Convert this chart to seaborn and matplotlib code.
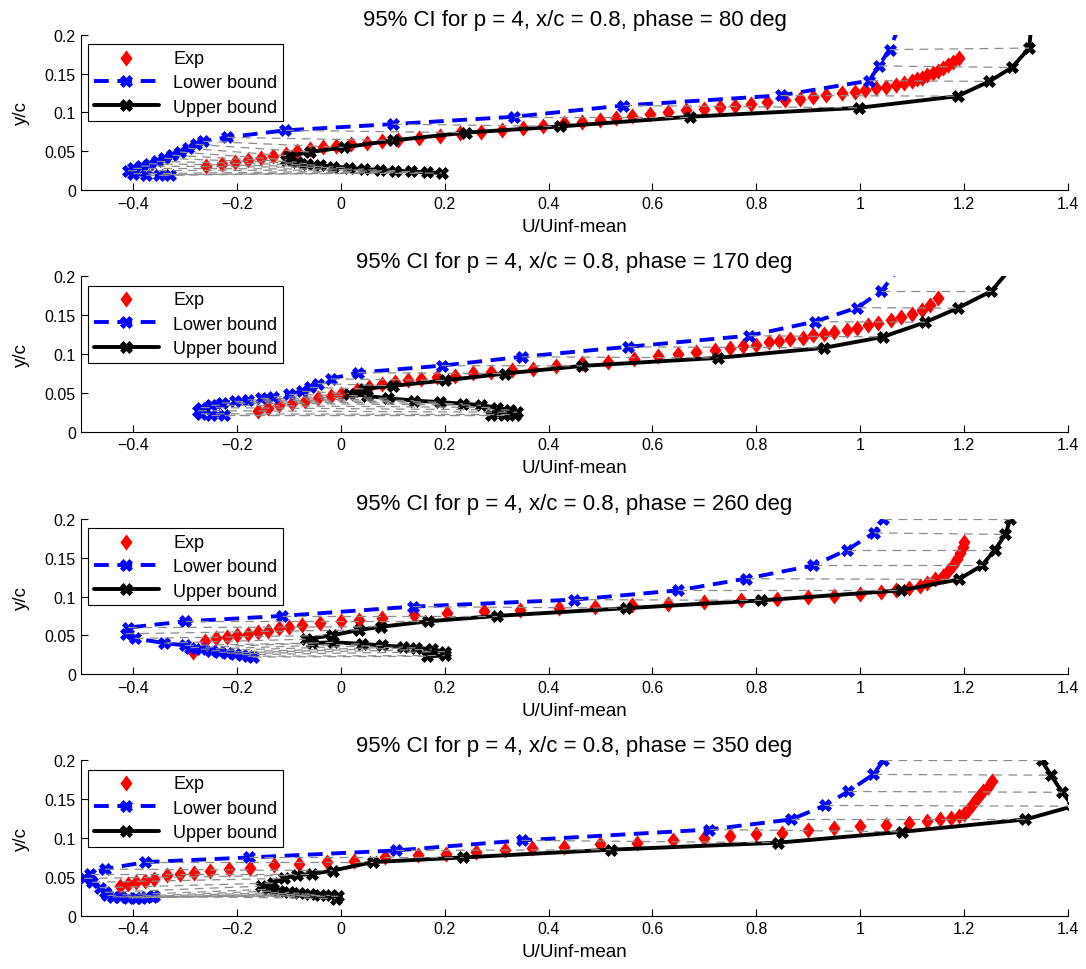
import numpy as np
import seaborn as sns
import matplotlib.pyplot as plt
from matplotlib.ticker import FuncFormatter

phases = [80, 170, 260, 350]

# ---- phase = 80 deg
exp1_x = [-0.26, -0.23, -0.205, -0.18, -0.155, -0.13, -0.105, -0.085, -0.06, -0.035, -0.01, 0.02, 0.05, 0.08,
          0.11, 0.15, 0.19, 0.23, 0.27, 0.31, 0.35, 0.39, 0.43, 0.465, 0.50, 0.53, 0.56, 0.595, 0.63, 0.665,
          0.70, 0.73, 0.76, 0.79, 0.82, 0.855, 0.885, 0.91, 0.935, 0.965, 0.99, 1.01, 1.03, 1.05, 1.07, 1.085,
          1.10, 1.11, 1.12, 1.13, 1.14, 1.15, 1.16, 1.17, 1.18, 1.19]
exp1_y = [0.031, 0.033, 0.036, 0.039, 0.041, 0.044, 0.047, 0.05, 0.053, 0.055, 0.057, 0.059, 0.061, 0.063,
          0.065, 0.067, 0.07, 0.073, 0.075, 0.078, 0.08, 0.083, 0.086, 0.088, 0.09, 0.093, 0.096, 0.098, 0.101,
          0.103, 0.105, 0.107, 0.109, 0.111, 0.113, 0.116, 0.118, 0.12, 0.122, 0.125, 0.127, 0.129, 0.131,
          0.133, 0.136, 0.138, 0.14, 0.143, 0.145, 0.148, 0.151, 0.154, 0.157, 0.161, 0.165, 0.17]
lower1_x = [-0.33, -0.35, -0.375, -0.40, -0.41, -0.40, -0.385, -0.37, -0.355, -0.34, -0.325, -0.31, -0.295,
            -0.28, -0.265, -0.22, -0.107, 0.1, 0.333, 0.544, 0.847, 1.018, 1.036, 1.057, 1.075]
lower1_y = [0.02, 0.019, 0.019, 0.021, 0.025, 0.028, 0.031, 0.034, 0.037, 0.041, 0.045, 0.049, 0.054, 0.059,
            0.063, 0.068, 0.077, 0.085, 0.0945, 0.109, 0.122, 0.141, 0.16, 0.181, 0.21]
upper1_x = [0.195, 0.165, 0.135, 0.105, 0.075, 0.045, 0.015, -0.015, -0.04, -0.065, -0.085, -0.105, -0.1,
            -0.06, 0.005, 0.10, 0.24, 0.422, 0.672, 0.998, 1.188, 1.249, 1.293, 1.326, 1.33]
upper1_y = [0.022, 0.023, 0.024, 0.025, 0.026, 0.027, 0.029, 0.03, 0.032, 0.034, 0.036, 0.039, 0.044, 0.049,
            0.055, 0.064, 0.074, 0.082, 0.0945, 0.106, 0.121, 0.14, 0.158, 0.183, 0.21]

# ---- phase = 170 deg
exp2_x = [-0.16, -0.14, -0.12, -0.095, -0.07, -0.045, -0.02, 0.0, 0.03, 0.055, 0.08, 0.105, 0.13, 0.155,
          0.185, 0.22, 0.255, 0.29, 0.33, 0.37, 0.415, 0.465, 0.515, 0.565, 0.61, 0.65, 0.685, 0.72, 0.75,
          0.775, 0.80, 0.825, 0.845, 0.865, 0.89, 0.91, 0.93, 0.95, 0.975, 0.995, 1.015, 1.035, 1.06, 1.08,
          1.10, 1.12, 1.135, 1.15]
exp2_y = [0.027, 0.031, 0.034, 0.037, 0.04, 0.043, 0.046, 0.049, 0.054, 0.058, 0.061, 0.064, 0.066, 0.068,
          0.07, 0.072, 0.075, 0.077, 0.079, 0.081, 0.084, 0.088, 0.09, 0.094, 0.098, 0.1, 0.102, 0.105, 0.108,
          0.11, 0.112, 0.115, 0.117, 0.119, 0.121, 0.124, 0.126, 0.129, 0.131, 0.134, 0.137, 0.14, 0.144,
          0.148, 0.152, 0.157, 0.163, 0.172]
lower2_x = [-0.225, -0.25, -0.27, -0.275, -0.27, -0.25, -0.23, -0.205, -0.18, -0.155, -0.13, -0.1, -0.075,
            -0.06, -0.045, -0.02, 0.032, 0.194, 0.348, 0.553, 0.786, 0.913, 0.995, 1.041, 1.075]
lower2_y = [0.021, 0.021, 0.023, 0.027, 0.031, 0.034, 0.037, 0.039, 0.041, 0.043, 0.045, 0.048, 0.052,
            0.057, 0.062, 0.068, 0.076, 0.085, 0.0964, 0.1093, 0.1236, 0.1417, 0.1598, 0.181, 0.21]
upper2_x = [0.29, 0.315, 0.335, 0.34, 0.325, 0.30, 0.27, 0.235, 0.19, 0.14, 0.09, 0.05, 0.015, 0.045, 0.10,
            0.20, 0.316, 0.465, 0.726, 0.931, 1.044, 1.126, 1.188, 1.253, 1.29]
upper2_y = [0.021, 0.021, 0.022, 0.025, 0.028, 0.031, 0.034, 0.036, 0.038, 0.040, 0.043, 0.046, 0.049,
            0.055, 0.059, 0.066, 0.0748, 0.0847, 0.095, 0.108, 0.122, 0.141, 0.159, 0.181, 0.21]

# ---- phase = 260 deg
exp3_x = [-0.285, -0.262, -0.24, -0.22, -0.2, -0.18, -0.16, -0.14, -0.12, -0.1, -0.075, -0.04, 0.0, 0.035,
          0.08, 0.14, 0.205, 0.275, 0.345, 0.42, 0.49, 0.56, 0.63, 0.70, 0.77, 0.84, 0.9, 0.95, 1.0, 1.04,
          1.07, 1.095, 1.115, 1.13, 1.145, 1.16, 1.17, 1.18, 1.187, 1.193, 1.198, 1.2]
exp3_y = [0.028, 0.043, 0.046, 0.048, 0.05, 0.052, 0.054, 0.056, 0.059, 0.061, 0.063, 0.066, 0.068, 0.07,
          0.072, 0.076, 0.079, 0.081, 0.083, 0.085, 0.087, 0.089, 0.091, 0.093, 0.095, 0.097, 0.099, 0.101,
          0.103, 0.106, 0.108, 0.111, 0.114, 0.118, 0.122, 0.127, 0.133, 0.14, 0.148, 0.156, 0.164, 0.17]
lower3_x = [-0.17, -0.18, -0.19, -0.205, -0.22, -0.235, -0.25, -0.27, -0.29, -0.30, -0.34, -0.397, -0.415,
            -0.41, -0.30, -0.113, 0.139, 0.45, 0.65, 0.78, 0.91, 0.975, 1.027, 1.045]
lower3_y = [0.022, 0.023, 0.025, 0.026, 0.027, 0.028, 0.03, 0.032, 0.034, 0.037, 0.040, 0.046, 0.052, 0.060,
            0.068, 0.075, 0.087, 0.096, 0.108, 0.123, 0.14, 0.16, 0.182, 0.2]
upper3_x = [0.165, 0.20, 0.20, 0.175, 0.145, 0.12, 0.08, 0.04, -0.015, -0.055, -0.068, -0.017, 0.035, 0.077,
            0.167, 0.30, 0.55, 0.81, 1.08, 1.19, 1.235, 1.26, 1.28, 1.29]
upper3_y = [0.023, 0.024, 0.029, 0.032, 0.034, 0.035, 0.037, 0.039, 0.041, 0.040, 0.045, 0.05, 0.057, 0.061,
            0.068, 0.075, 0.085, 0.095, 0.108, 0.122, 0.14, 0.16, 0.18, 0.2]

# ---- phase = 350 deg
exp4_x = [-0.425, -0.41, -0.395, -0.378, -0.36, -0.335, -0.31, -0.284, -0.252, -0.216, -0.176, -0.129, -0.081,
          -0.026, 0.026, 0.084, 0.148, 0.203, 0.261, 0.316, 0.368, 0.43, 0.50, 0.57, 0.64, 0.70, 0.75, 0.80,
          0.85, 0.90, 0.95, 1.0, 1.05, 1.095, 1.13, 1.155, 1.175, 1.19, 1.2, 1.208, 1.215, 1.222, 1.23, 1.238,
          1.246, 1.255]
exp4_y = [0.038, 0.041, 0.043, 0.045, 0.047, 0.052, 0.054, 0.055, 0.057, 0.06, 0.062, 0.065, 0.067, 0.069,
          0.071, 0.075, 0.078, 0.079, 0.082, 0.085, 0.087, 0.089, 0.092, 0.094, 0.097, 0.1, 0.103, 0.105,
          0.107, 0.111, 0.113, 0.115, 0.117, 0.119, 0.122, 0.124, 0.126, 0.128, 0.131, 0.136, 0.142, 0.148,
          0.154, 0.16, 0.166, 0.173]
lower4_x = [-0.36, -0.365, -0.375, -0.385, -0.395, -0.41, -0.425, -0.44, -0.45, -0.455, -0.465, -0.48, -0.495,
            -0.484, -0.455, -0.377, -0.177, 0.106, 0.348, 0.71, 0.868, 0.932, 0.977, 1.026, 1.045]
lower4_y = [0.025, 0.024, 0.024, 0.023, 0.023, 0.023, 0.024, 0.024, 0.026, 0.03, 0.036, 0.043, 0.048, 0.054,
            0.060, 0.069, 0.075, 0.084, 0.097, 0.111, 0.124, 0.142, 0.16, 0.182, 0.2]
upper4_x = [-0.01, -0.005, -0.02, -0.04, -0.06, -0.08, -0.10, -0.12, -0.14, -0.155, -0.13, -0.11, -0.085,
            -0.055, -0.016, 0.061, 0.235, 0.52, 0.842, 1.081, 1.319, 1.41, 1.39, 1.368, 1.35]
upper4_y = [0.022, 0.025, 0.026, 0.027, 0.028, 0.029, 0.030, 0.032, 0.034, 0.038, 0.042, 0.048, 0.052, 0.054,
            0.058, 0.069, 0.075, 0.085, 0.094, 0.108, 0.124, 0.141, 0.159, 0.181, 0.2]

panels = [
    (exp1_x, exp1_y, lower1_x, lower1_y, upper1_x, upper1_y),
    (exp2_x, exp2_y, lower2_x, lower2_y, upper2_x, upper2_y),
    (exp3_x, exp3_y, lower3_x, lower3_y, upper3_x, upper3_y),
    (exp4_x, exp4_y, lower4_x, lower4_y, upper4_x, upper4_y),
]

sns.set_style('ticks')
plt.rcParams['font.family'] = ['Liberation Sans', 'DejaVu Sans']
for key in ['text.color', 'axes.labelcolor', 'xtick.color', 'ytick.color', 'axes.edgecolor']:
    plt.rcParams[key] = 'black'

# MATLAB-like diamond, a bit taller than wide
diamond = [(0, 1), (0.75, 0), (0, -1), (-0.75, 0), (0, 1)]
fmt = FuncFormatter(lambda v, _: f'{v:g}'.replace('-', '\u2212'))

fig = plt.figure(figsize=(10.86, 9.70), dpi=100)
bottoms = [0.803, 0.554, 0.304, 0.055]

for phase, bottom, (ex, ey, lx, ly, ux, uy) in zip(phases, bottoms, panels):
    ax = fig.add_axes([0.075, bottom, 0.908, 0.160])

    sns.scatterplot(x=ex, y=ey, ax=ax, marker=diamond, s=135, color='red',
                    linewidth=0, label='Exp', zorder=3)
    sns.lineplot(x=lx, y=ly, ax=ax, sort=False, estimator=None, color='blue',
                 linewidth=2.8, linestyle=(0, (3.8, 2.2)), marker='X', markersize=8.5,
                 markeredgecolor='blue', markeredgewidth=0.5, label='Lower bound', zorder=4)
    sns.lineplot(x=ux, y=uy, ax=ax, sort=False, estimator=None, color='black',
                 linewidth=2.8, marker='X', markersize=8.5, markeredgecolor='black',
                 markeredgewidth=0.5, label='Upper bound', zorder=4)
    # grey dashed links between each lower/upper pair
    ax.plot(np.vstack([lx, ux]), np.vstack([ly, uy]), color='0.55',
            linestyle=(0, (7, 5)), linewidth=0.9, zorder=5)

    ax.set_xlim(-0.5, 1.4)
    ax.set_ylim(0, 0.2)
    ax.set_xticks([-0.4, -0.2, 0, 0.2, 0.4, 0.6, 0.8, 1, 1.2, 1.4])
    ax.set_yticks([0, 0.05, 0.1, 0.15, 0.2])
    ax.xaxis.set_major_formatter(fmt)
    ax.yaxis.set_major_formatter(fmt)
    ax.tick_params(direction='in', length=5, width=0.8, labelsize=11.5, pad=4)
    for side in ['top', 'right']:
        ax.spines[side].set_visible(False)
    for side in ['left', 'bottom']:
        ax.spines[side].set_linewidth(0.8)

    ax.set_title(f'95% CI for p = 4, x/c = 0.8, phase = {phase} deg', fontsize=16, pad=7)
    ax.set_xlabel('U/Uinf-mean', fontsize=13.5, labelpad=5)
    ax.set_ylabel('y/c', fontsize=13.5, labelpad=11)

    leg = ax.legend(loc='upper left', bbox_to_anchor=(0.007, 0.94), borderaxespad=0,
                    fontsize=13, frameon=True, fancybox=False, framealpha=1,
                    edgecolor='black', handlelength=3.6, scatterpoints=1,
                    borderpad=0.3, labelspacing=0.42, handletextpad=0.8)
    leg.get_frame().set_linewidth(0.8)

fig.savefig('out.png', dpi=100)
